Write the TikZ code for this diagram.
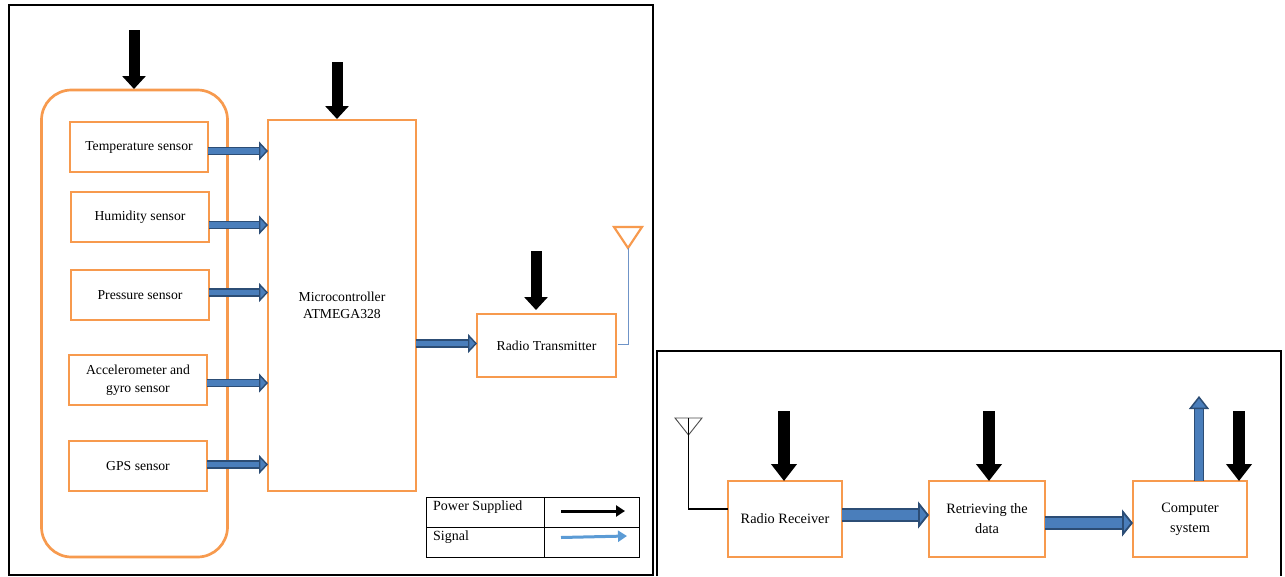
\documentclass[tikz,border=0pt]{standalone}
\usepackage{fontspec}
\setmainfont{Liberation Serif}
\usetikzlibrary{arrows.meta,calc}
\definecolor{boxorange}{HTML}{F79A4E}
\definecolor{sigfill}{HTML}{4A7EBB}
\definecolor{sigedge}{HTML}{2C4D75}
\definecolor{legblue}{HTML}{5B9BD5}
\definecolor{antblue}{HTML}{6F94C8}
\newcommand\dn[2]{\raisebox{-#1}{#2}}
\tikzset{
  blockbox/.style={draw=boxorange,line width=2.7pt,fill=white,inner sep=0pt,outer sep=0pt,align=center,font=\fontsize{13.7}{16.5}\selectfont},
  bigbox/.style={blockbox,font=\fontsize{14.3}{20}\selectfont},
  frameline/.style={draw=black,line width=2pt},
  pwr/.style={draw=black,line width=11pt,shorten >=1pt,-{Triangle[length=13pt,width=23pt]}},
  pwrbig/.style={draw=black,line width=12.5pt,-{Triangle[length=17pt,width=25pt]}},
  sig/.style={draw=sigedge,line width=1.4pt,double=sigfill,double distance=5.5pt,-{Triangle[length=9pt,width=19pt,fill=sigfill]}},
  sigbig/.style={draw=sigedge,line width=1.8pt,double=sigfill,double distance=9.5pt,-{Triangle[length=11pt,width=27pt,fill=sigfill]}},
  sigup/.style={draw=sigedge,line width=1.5pt,double=sigfill,double distance=7.5pt,-{Triangle[length=13pt,width=20pt,fill=sigfill]}},
  legtext/.style={inner sep=0pt,anchor=west,font=\fontsize{14}{16}\selectfont},
  antenna/.style={draw=boxorange,line width=2.2pt,line join=miter},
}
\begin{document}
\begin{tikzpicture}[x=1pt,y=-1pt]
\useasboundingbox (0,0) rectangle (1285,576);
\fill[white] (0,0) rectangle (1285,576);
% frames
\coordinate (fa) at (9,5);
\coordinate (fb) at (653,575);
\draw[frameline] (fa) rectangle (fb);
\coordinate (ga) at (657,576);
\coordinate (gb) at (657,351);
\coordinate (gc) at (1281,351);
\coordinate (gd) at (1281,576);
\draw[frameline] (ga) -- (gb) -- (gc) -- (gd);
% sensor group
\node[blockbox,minimum width=186pt,minimum height=467pt,rounded corners=30pt] (group) at (134.5,323.5) {};
\node[blockbox,minimum width=138pt,minimum height=50pt] (temp) at (139,147) {\dn{1.5pt}{Temperature sensor}};
\node[blockbox,minimum width=138pt,minimum height=50pt] (hum) at (140,217) {\dn{1.5pt}{Humidity sensor}};
\node[blockbox,minimum width=138pt,minimum height=50pt] (pres) at (140,295) {\dn{0.5pt}{Pressure sensor}};
\node[blockbox,minimum width=138pt,minimum height=50pt] (acc) at (138,380) {\dn{1pt}{Accelerometer and}\\\dn{2pt}{gyro sensor}};
\node[blockbox,minimum width=138pt,minimum height=50pt] (gps) at (138,466) {GPS sensor};
\node[blockbox,minimum width=148pt,minimum height=371pt] (mcu) at (342,305.5) {Microcontroller\\ATMEGA328};
\node[blockbox,minimum width=139pt,minimum height=63pt] (tx) at (546.5,345.5) {\dn{0.5pt}{Radio Transmitter}};
% signal arrows left
\coordinate (s1) at (208,151);
\coordinate (s2) at (209,225);
\coordinate (s3) at (209,292.5);
\coordinate (s4) at (207,383);
\coordinate (s5) at (207,464.5);
\coordinate (s6) at (416,343.5);
\draw[sig] (s1) -- (s1 -| mcu.west);
\draw[sig] (s2) -- (s2 -| mcu.west);
\draw[sig] (s3) -- (s3 -| mcu.west);
\draw[sig] (s4) -- (s4 -| mcu.west);
\draw[sig] (s5) -- (s5 -| mcu.west);
\draw[sig] (s6) -- (s6 -| tx.west);
% power arrows left
\coordinate (p1) at (134,30);
\coordinate (p2) at (337,62);
\coordinate (p3) at (536,251);
\draw[pwr] (p1) -- (p1 |- group.north);
\draw[pwr] (p2) -- (p2 |- mcu.north);
\draw[pwr,shorten >=4pt] (p3) -- (p3 |- tx.north);
% transmit antenna
\coordinate (ta) at (614,227);
\coordinate (tb) at (642,227);
\coordinate (tc) at (628,248);
\coordinate (td) at (628,344);
\coordinate (te) at (618,344);
\draw[antenna] (ta) -- (tb) -- (tc) -- cycle;
\draw[antblue,line width=0.8pt] (tc) -- (td) -- (te);
% legend
\coordinate (la) at (426,497);
\coordinate (lb) at (639,557);
\coordinate (lc) at (544,497);
\coordinate (ld) at (426,527);
\draw[black,line width=0.8pt] (la) rectangle (lb);
\draw[black,line width=0.8pt] (lc) -- (lc |- lb);
\draw[black,line width=0.8pt] (ld) -- (ld -| lb);
\node[legtext] (l1) at (433,507) {Power Supplied};
\node[legtext] (l2) at (433,537) {Signal};
\coordinate (k1) at (561,511);
\coordinate (k2) at (625,511);
\coordinate (k3) at (561,537.5);
\coordinate (k4) at (627,536);
\draw[black,line width=3pt,-{Triangle[length=9pt,width=11pt]}] (k1) -- (k2);
\draw[legblue,line width=3pt,-{Triangle[length=9pt,width=11pt]}] (k3) -- (k4);
% receiver side
\node[bigbox,minimum width=114pt,minimum height=76pt] (rx) at (785,519) {Radio Receiver};
\node[bigbox,minimum width=116pt,minimum height=76pt] (ret) at (987,519) {Retrieving the\\data};
\node[bigbox,minimum width=114pt,minimum height=76pt] (pc) at (1190,519) {Computer\\system};
\coordinate (r1) at (842,515);
\coordinate (r2) at (1045,523);
\coordinate (r3) at (1199,396);
\draw[sigbig] (r1) -- (r1 -| ret.west);
\draw[sigbig] (r2) -- (r2 -| pc.west);
\draw[sigup] (r3 |- pc.north) -- (r3);
\coordinate (q1) at (784,411);
\coordinate (q2) at (989,411);
\coordinate (q3) at (1239,411);
\draw[pwrbig] (q1) -- (q1 |- rx.north);
\draw[pwrbig] (q2) -- (q2 |- ret.north);
\draw[pwrbig] (q3) -- (q3 |- pc.north);
% receive antenna
\coordinate (ra) at (675,418);
\coordinate (rb) at (702,418);
\coordinate (rc) at (688.5,435);
\coordinate (rd) at (688.5,418);
\coordinate (re) at (688.5,509);
\draw[black!70,line width=0.9pt] (ra) -- (rb) -- (rc) -- cycle;
\draw[black,line width=1.5pt] (rd) -- (re) -- (re -| rx.west);
\end{tikzpicture}
\end{document}
